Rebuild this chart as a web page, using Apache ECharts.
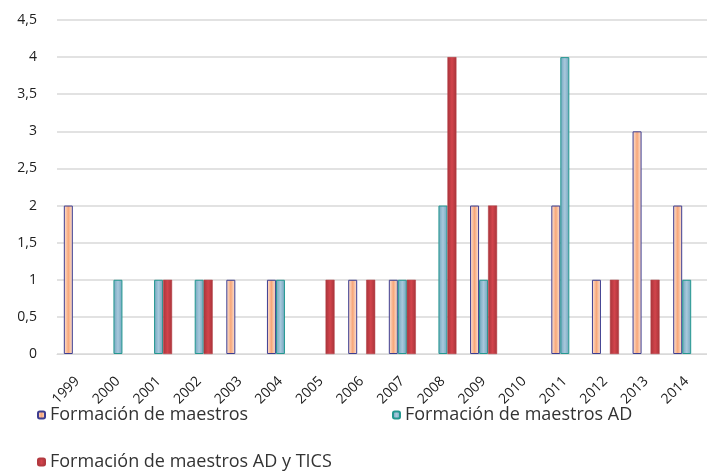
<!DOCTYPE html>
<html>
<head>
<meta charset="utf-8">
<script src="https://cdn.jsdelivr.net/npm/echarts@6/dist/echarts.min.js"></script>
<style>
  html, body { margin: 0; padding: 0; background: #fff; }
  #main { width: 707px; height: 472px; }
</style>
</head>
<body>
<div id="main"></div>
<script>
var years = ['1999', '2000', '2001', '2002', '2003', '2004', '2005', '2006',
             '2007', '2008', '2009', '2010', '2011', '2012', '2013', '2014'];
var maestros     = [2, 0, 0, 0, 1, 1, 0, 1, 1, 0, 2, 0, 2, 1, 3, 2];
var maestrosAD   = [0, 1, 1, 1, 0, 1, 0, 0, 1, 2, 1, 0, 4, 0, 0, 1];
var maestrosTICS = [0, 0, 1, 1, 0, 0, 1, 1, 1, 4, 2, 0, 0, 1, 1, 0];
var seriesNames = ['Formación de maestros', 'Formación de maestros AD', 'Formación de maestros AD y TICS'];

// zero values are not drawn as bars in the original
function noZero(arr) {
  return arr.map(function (v) { return v === 0 ? '-' : v; });
}

function grad(edge, mid) {
  return new echarts.graphic.LinearGradient(0, 0, 1, 0, [
    { offset: 0, color: edge },
    { offset: 0.5, color: mid },
    { offset: 1, color: edge }
  ]);
}

var chart = echarts.init(document.getElementById('main'));
var font = 'Open Sans';
var legendText = { fontSize: 18, color: '#333333', fontFamily: font };

chart.setOption({
  animation: false,
  textStyle: { fontFamily: font },
  grid: { left: 57, right: -7, top: 20, bottom: 118 },
  legend: [
    { data: [seriesNames[0]], left: 37, top: 406, padding: 0, itemWidth: 7, itemHeight: 7, textStyle: legendText },
    { data: [seriesNames[1]], left: 392, top: 406, padding: 0, itemWidth: 7, itemHeight: 7, textStyle: legendText },
    { data: [seriesNames[2]], left: 37, top: 453, padding: 0, itemWidth: 7, itemHeight: 7, textStyle: legendText }
  ],
  xAxis: {
    type: 'category',
    data: years,
    axisLine: { lineStyle: { color: '#d9d9d9' } },
    axisTick: { show: false },
    axisLabel: { rotate: 45, fontSize: 14, color: '#202020', margin: 25, interval: 0 }
  },
  yAxis: {
    type: 'value',
    min: 0,
    max: 4.5,
    interval: 0.5,
    axisLine: { show: false },
    axisTick: { show: false },
    splitLine: { lineStyle: { color: '#d9d9d9', width: 1.5 } },
    axisLabel: {
      fontSize: 14, color: '#202020', margin: 20,
      formatter: function (v) { return String(v).replace('.', ','); }
    }
  },
  series: [
    {
      name: seriesNames[0], type: 'bar', data: noZero(maestros), barWidth: 9, barGap: '0%',
      itemStyle: { color: grad('#fde9de', '#f7a77a'), borderColor: '#3d3d90', borderWidth: 1 }
    },
    {
      name: seriesNames[1], type: 'bar', data: noZero(maestrosAD), barWidth: 9, barGap: '0%',
      itemStyle: { color: grad('#6fa5bd', '#a8c8dc'), borderColor: '#249890', borderWidth: 1 }
    },
    {
      name: seriesNames[2], type: 'bar', data: noZero(maestrosTICS), barWidth: 9, barGap: '0%',
      itemStyle: { color: grad('#a8343a', '#d2444c'), borderColor: '#b33a40', borderWidth: 0.5 }
    }
  ]
});
</script>
</body>
</html>
